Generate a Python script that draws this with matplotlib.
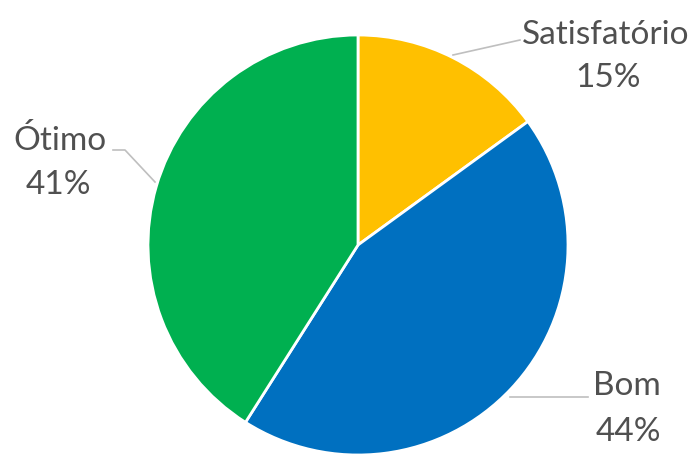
import matplotlib.pyplot as plt

labels = ["Satisfatório", "Bom", "Ótimo"]
values = [15, 44, 41]
colors = ["#FFC000", "#0070C0", "#00B050"]

W, H = 697, 454
fig = plt.figure(figsize=(W / 100, H / 100), dpi=100)
ax = fig.add_axes([0, 0, 1, 1])

cx, cy, r = 358, H - 245, 210
ax.pie(
    values,
    colors=colors,
    startangle=90,
    counterclock=False,
    center=(cx, cy),
    radius=r,
    wedgeprops=dict(edgecolor="white", linewidth=2),
    frame=True,
)
ax.set_xlim(0, W)
ax.set_ylim(0, H)
ax.set_aspect("equal")
ax.axis("off")

# label placement (pixel coords from top)
label_pos = [(606, 35, 608, 78), (627, 386, 628, 432), (60, 140, 58, 185)]
leaders = [
    [(453, 55), (520, 40)],
    [(510, 397), (588, 397)],
    [(155, 182), (125, 150), (113, 150)],
]

txt = "#505050"
for lab, v, (lx, ly, px, py), pts in zip(labels, values, label_pos, leaders):
    ax.text(lx, H - ly, lab, ha="center", va="center", fontsize=24,
            color=txt, family="Lato")
    ax.text(px, H - py, f"{v}%", ha="center", va="center", fontsize=24,
            color=txt, family="Lato")
    xs = [p[0] for p in pts]
    ys = [H - p[1] for p in pts]
    ax.plot(xs, ys, color="#BFBFBF", linewidth=1.2)

fig.savefig("out.png", dpi=100)
